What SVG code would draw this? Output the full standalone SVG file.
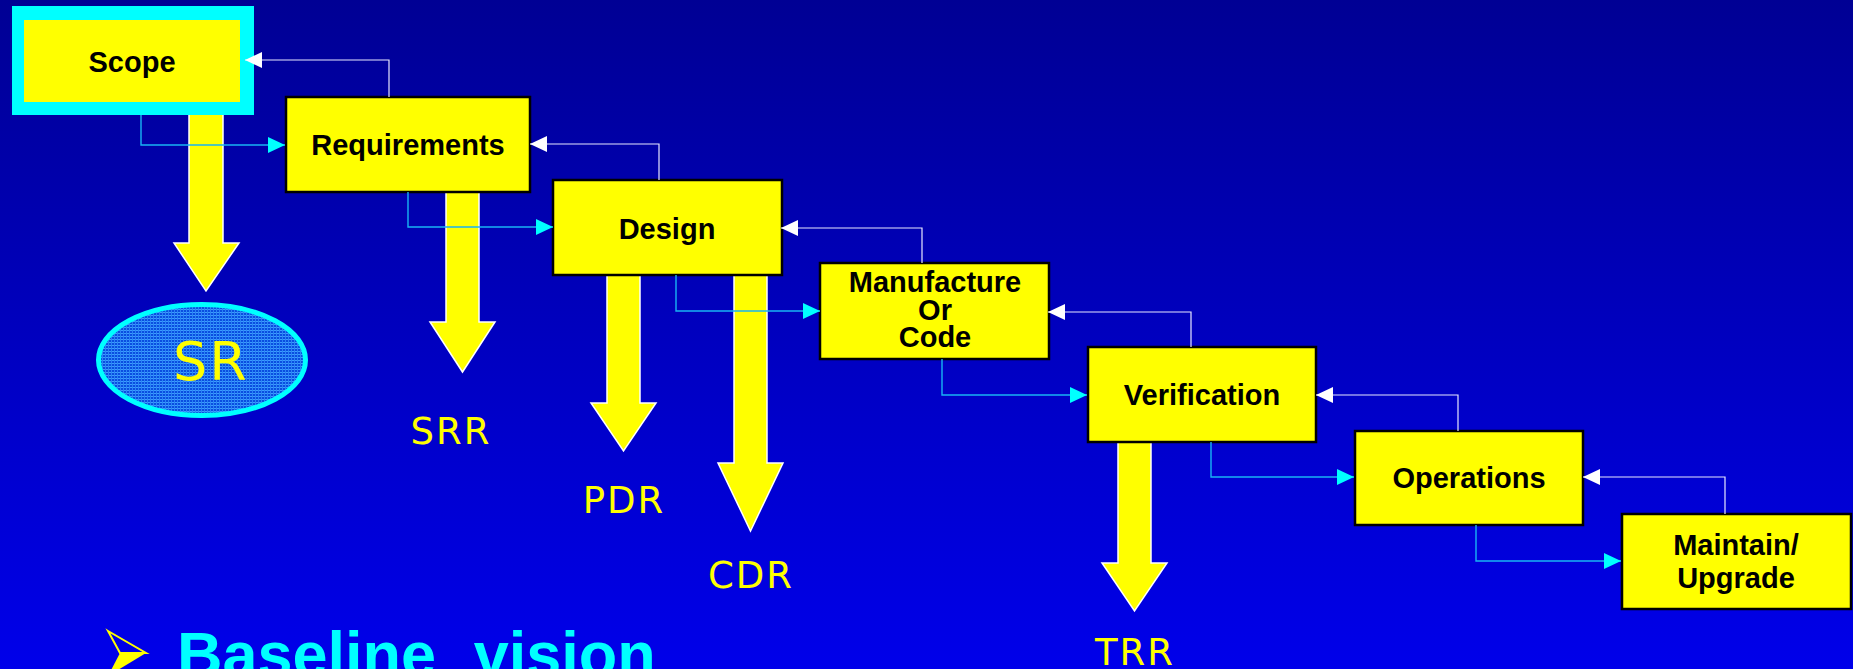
<svg xmlns="http://www.w3.org/2000/svg" width="1853" height="669" viewBox="0 0 1853 669">
  <defs>
    <linearGradient id="bg" x1="0" y1="0" x2="0" y2="1">
      <stop offset="0" stop-color="#000094"/>
      <stop offset="1" stop-color="#0000ea"/>
    </linearGradient>
    <pattern id="mesh" width="3" height="3" patternUnits="userSpaceOnUse">
      <rect width="3" height="3" fill="#0a4ee0"/>
      <rect width="3" height="1" fill="#3c9cff"/>
      <rect width="1" height="3" fill="#2a84f4"/>
    </pattern>
    <marker id="headCyan" markerUnits="userSpaceOnUse" markerWidth="17" markerHeight="16" viewBox="0 0 17 16" refX="17" refY="8" orient="auto">
      <path d="M0,0 L17,8 L0,16 Z" fill="#00ffff"/>
    </marker>
    <marker id="headWhite" markerUnits="userSpaceOnUse" markerWidth="17" markerHeight="16" viewBox="0 0 17 16" refX="17" refY="8" orient="auto">
      <path d="M0,0 L17,8 L0,16 Z" fill="#ffffff"/>
    </marker>
    <style>
      .box { fill: #ffff00; stroke: #000000; stroke-width: 2.5; }
      .lbl { font-family: "Liberation Sans", Arial, sans-serif; font-weight: bold; font-size: 29px; fill: #000000; text-anchor: middle; }
      .bigarrow { fill: #ffff00; stroke: #ffffff; stroke-width: 1.5; stroke-linejoin: miter; }
      .review { font-family: "DejaVu Sans", Verdana, sans-serif; font-size: 37px; fill: #ffff00; text-anchor: middle; letter-spacing: 2px; }
      .fwd { fill: none; stroke: #18b4f4; stroke-width: 1.4; marker-end: url(#headCyan); }
      .back { fill: none; stroke: #e8e8ff; stroke-width: 1.2; marker-end: url(#headWhite); }
    </style>
  </defs>

  <!-- background -->
  <rect x="0" y="0" width="1853" height="669" fill="url(#bg)"/>

  <!-- review outputs: big downward arrows -->
  <g id="review-arrows">
    <polygon class="bigarrow" points="189,112 223,112 223,243 239,243 206,291 174,243 189,243"/>
    <polygon class="bigarrow" points="446,190 479,190 479,322 495,322 462.5,372 430,322 446,322"/>
    <polygon class="bigarrow" points="607,273 640,273 640,403 656,403 623.5,451 591,403 607,403"/>
    <polygon class="bigarrow" points="734,273 767,273 767,463 783,463 750.5,531 718,463 734,463"/>
    <polygon class="bigarrow" points="1118,440 1151,440 1151,563 1167,563 1134.5,611 1102,563 1118,563"/>
  </g>

  <!-- phase boxes -->
  <g id="scope">
    <rect x="12" y="6" width="242" height="109" fill="#00ffff"/>
    <rect x="24" y="20" width="216" height="82" fill="#ffff00"/>
    <text class="lbl" x="132" y="72">Scope</text>
  </g>
  <g id="requirements">
    <rect class="box" x="286" y="97" width="244" height="95"/>
    <text class="lbl" x="408" y="155">Requirements</text>
  </g>
  <g id="design">
    <rect class="box" x="553" y="180" width="229" height="95"/>
    <text class="lbl" x="667" y="239">Design</text>
  </g>
  <g id="manufacture">
    <rect class="box" x="820" y="263" width="229" height="96"/>
    <text class="lbl" x="935" y="292">Manufacture</text>
    <text class="lbl" x="935" y="319.5">Or</text>
    <text class="lbl" x="935" y="347">Code</text>
  </g>
  <g id="verification">
    <rect class="box" x="1088" y="347" width="228" height="95"/>
    <text class="lbl" x="1202" y="405">Verification</text>
  </g>
  <g id="operations">
    <rect class="box" x="1355" y="431" width="228" height="94"/>
    <text class="lbl" x="1469" y="488">Operations</text>
  </g>
  <g id="maintain">
    <rect class="box" x="1622" y="514" width="229" height="95"/>
    <text class="lbl" x="1736" y="555">Maintain/</text>
    <text class="lbl" x="1736" y="588">Upgrade</text>
  </g>

  <!-- connectors: forward (cyan) and feedback (white) -->
  <g id="connectors">
    <path class="fwd" d="M141,115 V145 H285"/>
    <path class="back" d="M389,97 V60 H245"/>
    <path class="fwd" d="M408,192 V227 H553"/>
    <path class="back" d="M659,180 V144 H530"/>
    <path class="fwd" d="M676,275 V311 H820"/>
    <path class="back" d="M922,263 V228 H781"/>
    <path class="fwd" d="M942,359 V395 H1087"/>
    <path class="back" d="M1191,347 V312 H1048"/>
    <path class="fwd" d="M1211,442 V477 H1354"/>
    <path class="back" d="M1458,431 V395 H1316"/>
    <path class="fwd" d="M1476,525 V561 H1621"/>
    <path class="back" d="M1725,514 V477 H1583"/>
  </g>

  <!-- SR ellipse -->
  <g id="sr">
    <ellipse cx="202" cy="360" rx="103.5" ry="55.5" fill="url(#mesh)" stroke="#00ffff" stroke-width="5"/>
    <text x="211" y="380" font-family="'DejaVu Sans', Verdana, sans-serif" font-size="54" fill="#ffff00" text-anchor="middle" letter-spacing="2">SR</text>
  </g>

  <!-- review labels -->
  <g id="reviews">
    <text class="review" x="451" y="444">SRR</text>
    <text class="review" x="624" y="513">PDR</text>
    <text class="review" x="751" y="588">CDR</text>
    <text class="review" x="1135" y="665">TRR</text>
  </g>

  <!-- bullet line -->
  <g id="bullet">
    <polygon points="108,631 146,653 120,653" fill="none" stroke="#ffff00" stroke-width="2" stroke-linejoin="miter"/>
    <polygon points="120,653 146,653 108,676" fill="#ffff00"/>
    <text x="177" y="676" font-family="'Liberation Sans', Arial, sans-serif" font-weight="bold" font-size="63" fill="#00ffff" word-spacing="20">Baseline vision</text>
  </g>
</svg>
